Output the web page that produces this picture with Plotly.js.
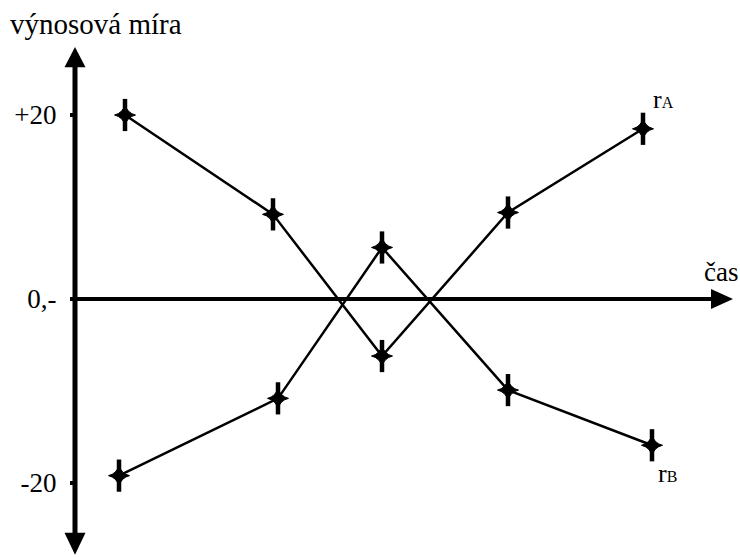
<!DOCTYPE html>
<html>
<head>
<meta charset="utf-8">
<script src="https://cdn.plot.ly/plotly-3.0.1.min.js"></script>
<style>
  html, body { margin: 0; padding: 0; background: #fff; }
  #chart { width: 740px; height: 557px; }
</style>
</head>
<body>
<div id="chart"></div>
<script>
// time positions (arbitrary units, y-axis at 0) and returns
const casA = [5.0, 19.8, 30.7, 43.3, 56.8];
const mieraA = [20, 9.2, -6.2, 9.4, 18.5];
const casB = [4.4, 20.3, 30.7, 43.3, 57.7];
const mieraB = [-19.2, -10.8, 5.6, -9.9, -15.9];

const tickVals = [20, 0, -20];
const tickText = ['+20', '0,-', '-20'];

const W = 740, H = 557;
const FONT = 'Liberation Serif';

// axis scale: 10 px per time unit, 9.2 px per percent, origin at (75, 299)
const xRange = [-7.5, (W - 75) / 10];
const yRange = [(299 - H) / 9.2, 299 / 9.2];

function px(x) { return x / W; }
function py(y) { return 1 - y / H; }

const lineStyle = { color: '#000', width: 2.5 };
const markerStyle = { symbol: 'star-diamond', size: 15, color: '#000', line: { color: '#000', width: 1 } };
// vertical stroke makes the marker taller like the drawn crosses
const tallStyle = { symbol: 'line-ns', size: 23, line: { color: '#000', width: 4.5 } };

const traces = [
  { x: casA, y: mieraA, type: 'scatter', mode: 'lines+markers', name: 'rA',
    line: lineStyle, marker: markerStyle, hoverinfo: 'skip' },
  { x: casB, y: mieraB, type: 'scatter', mode: 'lines+markers', name: 'rB',
    line: lineStyle, marker: markerStyle, hoverinfo: 'skip' },
  { x: casA, y: mieraA, type: 'scatter', mode: 'markers', marker: tallStyle, hoverinfo: 'skip' },
  { x: casB, y: mieraB, type: 'scatter', mode: 'markers', marker: tallStyle, hoverinfo: 'skip' }
];

// hand-drawn style axes with arrowheads
const shapes = [
  { type: 'line', xref: 'x', yref: 'y', x0: 0, x1: 0, y0: -26, y1: 26,
    line: { color: '#000', width: 5 } },
  { type: 'line', xref: 'x', yref: 'y', x0: 0, x1: 64, y0: 0, y1: 0,
    line: { color: '#000', width: 4 } },
  { type: 'path', xref: 'x', yref: 'y', fillcolor: '#000', line: { width: 0 },
    path: 'M -1.05 25.2 L 1.05 25.2 L 0 27.4 Z' },
  { type: 'path', xref: 'x', yref: 'y', fillcolor: '#000', line: { width: 0 },
    path: 'M -1.05 -25.4 L 1.05 -25.4 L 0 -27.8 Z' },
  { type: 'path', xref: 'x', yref: 'y', fillcolor: '#000', line: { width: 0 },
    path: 'M 63.6 1.1 L 63.6 -1.1 L 65.8 0 Z' }
];

const annotations = [
  { text: 'výnosová míra', xref: 'paper', yref: 'paper', x: px(8), y: py(24),
    xanchor: 'left', yanchor: 'middle', showarrow: false, font: { family: FONT, size: 29, color: '#000' } },
  { text: 'čas', xref: 'paper', yref: 'paper', x: px(702), y: py(272),
    xanchor: 'left', yanchor: 'middle', showarrow: false, font: { family: FONT, size: 27, color: '#000' } },
  { text: 'r<span style="font-size:16px">A</span>', xref: 'paper', yref: 'paper', x: px(651), y: py(99),
    xanchor: 'left', yanchor: 'middle', showarrow: false, font: { family: FONT, size: 26, color: '#000' } },
  { text: 'r<span style="font-size:16px">B</span>', xref: 'paper', yref: 'paper', x: px(656), y: py(473),
    xanchor: 'left', yanchor: 'middle', showarrow: false, font: { family: FONT, size: 26, color: '#000' } }
];

const layout = {
  width: W, height: H,
  margin: { l: 0, r: 0, t: 0, b: 0 },
  paper_bgcolor: '#fff', plot_bgcolor: '#fff',
  showlegend: false,
  xaxis: { range: xRange, visible: false, fixedrange: true },
  yaxis: {
    range: yRange, anchor: 'free', position: 75 / W, side: 'left',
    showgrid: false, zeroline: false, showline: false,
    tickmode: 'array', tickvals: tickVals, ticktext: tickText,
    ticks: 'outside', ticklen: 5, tickwidth: 4, tickcolor: '#000',
    ticklabelstandoff: 8,
    tickfont: { family: FONT, size: 27, color: '#000' },
    fixedrange: true
  },
  shapes: shapes,
  annotations: annotations
};

Plotly.newPlot('chart', traces, layout, { displayModeBar: false, staticPlot: true });
</script>
</body>
</html>
